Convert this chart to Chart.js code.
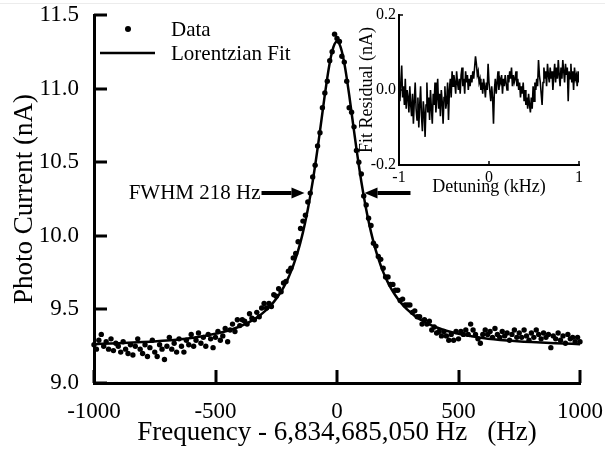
<!DOCTYPE html>
<html>
<head>
<meta charset="utf-8">
<script src="https://cdn.jsdelivr.net/npm/chart.js@4.4.1/dist/chart.umd.min.js"></script>
<style>
  html, body { margin: 0; padding: 0; background: #fff; }
  #wrap { position: relative; width: 605px; height: 454px; overflow: hidden; }
  #wrap::before { content: ''; position: absolute; left: 0; right: 0; top: 3px; height: 1px; background: #ececec; }
  #main { position: absolute; left: 0; top: 0; }
  #inset { position: absolute; left: 330px; top: 0; }
</style>
</head>
<body>
<div id="wrap">
  <canvas id="main" width="605" height="454"></canvas>
  <canvas id="inset" width="275" height="200"></canvas>
</div>
<script>
/* Lorentzian resonance scan with fit residual inset */

// detuning of each measured point (Hz)
const freqHz = [
  -1000, -990, -980, -970, -960, -950, -940, -930, -920, -910,
  -900, -890, -880, -870, -860, -850, -840, -830, -820, -810,
  -800, -790, -780, -770, -760, -750, -740, -730, -720, -710,
  -700, -690, -680, -670, -660, -650, -640, -630, -620, -610,
  -600, -590, -580, -570, -560, -550, -540, -530, -520, -510,
  -500, -490, -480, -470, -460, -450, -440, -430, -420, -410,
  -400, -390, -380, -370, -360, -350, -340, -330, -320, -310,
  -300, -290, -280, -270, -260, -250, -240, -230, -220, -210,
  -200, -190, -180, -170, -160, -150, -140, -130, -120, -110,
  -100, -90, -80, -70, -60, -50, -40, -30, -20, -10,
  0,
  10, 20, 30, 40, 50, 60, 70, 80, 90, 100,
  110, 120, 130, 140, 150, 160, 170, 180, 190, 200,
  210, 220, 230, 240, 250, 260, 270, 280, 290, 300,
  310, 320, 330, 340, 350, 360, 370, 380, 390, 400,
  410, 420, 430, 440, 450, 460, 470, 480, 490, 500,
  510, 520, 530, 540, 550, 560, 570, 580, 590, 600,
  610, 620, 630, 640, 650, 660, 670, 680, 690, 700,
  710, 720, 730, 740, 750, 760, 770, 780, 790, 800,
  810, 820, 830, 840, 850, 860, 870, 880, 890, 900,
  910, 920, 930, 940, 950, 960, 970, 980, 990, 1000
];

// measured photo current (nA)
const photoCurrent = [
  9.26, 9.23, 9.29, 9.33, 9.25, 9.28, 9.23, 9.30, 9.22, 9.27,
  9.25, 9.21, 9.28, 9.23, 9.20, 9.26, 9.19, 9.25, 9.30, 9.23,
  9.20, 9.26, 9.18, 9.24, 9.29, 9.21, 9.18, 9.26, 9.23, 9.16,
  9.25, 9.31, 9.23, 9.27, 9.21, 9.30, 9.25, 9.21, 9.29, 9.26,
  9.33, 9.25, 9.29, 9.34, 9.27, 9.31, 9.25, 9.33, 9.30, 9.24,
  9.31, 9.35, 9.29, 9.32, 9.37, 9.28, 9.36, 9.40, 9.35, 9.43,
  9.39, 9.43, 9.42, 9.40, 9.47, 9.44, 9.43, 9.48, 9.45, 9.51,
  9.54, 9.51, 9.54, 9.52, 9.60, 9.59, 9.64, 9.62, 9.68, 9.69,
  9.76, 9.78, 9.85, 9.88, 9.96, 10.05, 10.10, 10.14, 10.23, 10.29,
  10.40, 10.48, 10.61, 10.70, 10.87, 10.97, 11.05, 11.19, 11.25, 11.37,
  11.34,
  11.32, 11.22, 11.18, 11.05, 10.87, 10.84, 10.74, 10.58, 10.50, 10.42,
  10.27, 10.21, 10.12, 10.07, 9.95, 9.93, 9.86, 9.84, 9.78, 9.72,
  9.72, 9.67, 9.67, 9.63, 9.63, 9.56, 9.57, 9.53, 9.53, 9.53,
  9.48, 9.49, 9.45, 9.45, 9.40, 9.43, 9.40, 9.42, 9.36, 9.38,
  9.34, 9.35, 9.32, 9.35, 9.32, 9.29, 9.33, 9.29, 9.35, 9.30,
  9.35, 9.33, 9.36, 9.33, 9.40, 9.36, 9.33, 9.30, 9.27, 9.33,
  9.36, 9.33, 9.35, 9.31, 9.37, 9.33, 9.31, 9.35, 9.32, 9.34,
  9.29, 9.33, 9.36, 9.31, 9.34, 9.31, 9.36, 9.32, 9.29, 9.34,
  9.31, 9.36, 9.33, 9.30, 9.34, 9.31, 9.33, 9.24, 9.32, 9.30,
  9.34, 9.29, 9.32, 9.27, 9.33, 9.30, 9.31, 9.28, 9.31, 9.28
];

// fitted Lorentzian curve
const fitHz = [
  -1000, -900, -800, -700, -600, -550, -500, -450, -400, -380, -360, -340, -320,
  -300, -280, -260, -240, -220, -200, -190, -180, -170, -160, -150, -140, -130,
  -120, -110, -100, -90, -80, -70, -60, -50, -40, -30, -20, -10, 0,
  10, 20, 30, 40, 50, 60, 70, 80, 90, 100, 110, 120, 130, 140, 150, 160, 170,
  180, 190, 200, 220, 240, 260, 280, 300, 320, 340, 360, 380, 400, 450, 500,
  550, 600, 700, 800, 900, 1000
];
const fitCurrent = [
  9.264, 9.270, 9.278, 9.289, 9.306, 9.319, 9.334, 9.355, 9.384, 9.398, 9.415, 9.434, 9.456,
  9.483, 9.514, 9.551, 9.596, 9.650, 9.716, 9.755, 9.798, 9.846, 9.899, 9.959, 10.025, 10.099,
  10.180, 10.271, 10.369, 10.477, 10.592, 10.713, 10.836, 10.959, 11.073, 11.174, 11.252, 11.303, 11.320,
  11.303, 11.252, 11.174, 11.073, 10.959, 10.836, 10.713, 10.592, 10.477, 10.369, 10.271, 10.180, 10.099, 10.025, 9.959, 9.899, 9.846,
  9.798, 9.755, 9.716, 9.650, 9.596, 9.551, 9.514, 9.483, 9.456, 9.434, 9.415, 9.398, 9.384, 9.355, 9.334,
  9.319, 9.306, 9.289, 9.278, 9.270, 9.264
];

// fit residual (nA), same points as freqHz
const fitResidual = [
  0.00, -0.03, 0.02, 0.065, -0.02, 0.01, -0.04, 0.03, -0.05, 0.00,
  -0.02, -0.06, 0.01, -0.04, -0.07, -0.01, -0.09, -0.03, 0.02, -0.05,
  -0.08, -0.02, -0.10, -0.04, 0.01, -0.07, -0.11, -0.03, -0.06, -0.125,
  -0.04, 0.02, -0.06, -0.02, -0.08, 0.00, -0.05, -0.09, -0.01, -0.04,
  0.02, -0.06, -0.02, 0.03, -0.05, -0.01, -0.07, 0.00, -0.03, -0.09,
  -0.02, 0.01, -0.05, -0.03, 0.02, -0.08, 0.00, 0.03, -0.02, 0.05,
  0.01, 0.04, 0.02, -0.01, 0.05, 0.02, 0.00, 0.03, -0.01, 0.04,
  0.06, 0.01, 0.03, -0.01, 0.05, 0.02, 0.04, 0.00, 0.03, 0.01,
  0.04, 0.02, 0.05, 0.03, 0.06, 0.09, 0.07, 0.04, 0.05, 0.02,
  0.03, 0.00, 0.02, -0.01, 0.03, 0.01, -0.02, 0.02, 0.00, 0.07,
  0.02,
  0.02, -0.03, 0.01, -0.02, -0.09, 0.00, 0.03, -0.01, 0.02, 0.05,
  0.00, 0.03, 0.02, 0.04, -0.01, 0.03, 0.01, 0.04, 0.02, 0.00,
  0.04, 0.02, 0.05, 0.03, 0.06, 0.01, 0.04, 0.02, 0.03, 0.05,
  0.01, 0.03, 0.00, 0.02, -0.02, 0.01, -0.01, 0.02, -0.03, 0.00,
  -0.04, -0.02, -0.05, -0.01, -0.04, -0.06, -0.02, -0.05, 0.01, -0.03,
  0.02, 0.00, 0.03, 0.01, 0.08, 0.04, 0.02, -0.01, -0.04, 0.02,
  0.06, 0.03, 0.05, 0.01, 0.07, 0.04, 0.02, 0.06, 0.03, 0.05,
  0.00, 0.04, 0.07, 0.02, 0.06, 0.03, 0.08, 0.04, 0.01, 0.06,
  0.03, 0.08, 0.05, 0.02, 0.07, 0.04, 0.06, -0.03, 0.05, 0.03,
  0.07, 0.02, 0.05, 0.00, 0.06, 0.03, 0.04, 0.01, 0.05, 0.02
];

const fwhmHz = 218;
const fwhmLevel = 10.29;

const SERIF = "'Liberation Serif', 'Times New Roman', serif";
Chart.defaults.font.family = SERIF;
Chart.defaults.color = '#000';
Chart.defaults.animation = false;

function pts(xs, ys) {
  return xs.map(function (x, i) { return { x: x, y: ys[i] }; });
}

// fixed axis box sizes; label overflow is left to the layout padding
function fixedBox(size) {
  return function (s) {
    if (s.isHorizontal()) s.height = size; else s.width = size;
    s.paddingLeft = s.paddingRight = s.paddingTop = s.paddingBottom = 0;
  };
}

// Origin style tick marks pointing into the plot
const inwardTicks = {
  id: 'inwardTicks',
  afterDatasetsDraw(chart, args, opts) {
    const { ctx, chartArea: a, scales: { x, y } } = chart;
    ctx.save();
    ctx.strokeStyle = '#000';
    ctx.lineWidth = opts.width;
    x.ticks.forEach(function (t) {
      const px = Math.round(x.getPixelForValue(t.value));
      ctx.beginPath();
      ctx.moveTo(px, a.bottom);
      ctx.lineTo(px, a.bottom - opts.length);
      ctx.stroke();
    });
    y.ticks.forEach(function (t) {
      const py = Math.round(y.getPixelForValue(t.value));
      ctx.beginPath();
      ctx.moveTo(a.left, py);
      ctx.lineTo(a.left + opts.length, py);
      ctx.stroke();
    });
    ctx.restore();
  }
};

function arrow(ctx, tailX, tipX, y) {
  const dir = tipX > tailX ? 1 : -1;
  const head = 13;
  ctx.beginPath();
  ctx.moveTo(tailX, y);
  ctx.lineTo(tipX - dir * head, y);
  ctx.lineWidth = 4;
  ctx.stroke();
  ctx.beginPath();
  ctx.moveTo(tipX, y);
  ctx.lineTo(tipX - dir * head, y - 5.5);
  ctx.lineTo(tipX - dir * head, y + 5.5);
  ctx.closePath();
  ctx.fill();
}

const annotations = {
  id: 'annotations',
  afterDraw(chart) {
    const { ctx, scales: { x, y } } = chart;
    ctx.save();
    ctx.fillStyle = '#000';
    ctx.strokeStyle = '#000';

    // legend
    ctx.font = '21px ' + SERIF;
    ctx.textBaseline = 'middle';
    ctx.textAlign = 'left';
    ctx.beginPath();
    ctx.arc(128, 29, 3, 0, Math.PI * 2);
    ctx.fill();
    ctx.fillText('Data', 171, 30);
    ctx.beginPath();
    ctx.moveTo(100, 53);
    ctx.lineTo(155, 53);
    ctx.lineWidth = 2.5;
    ctx.stroke();
    ctx.fillText('Lorentzian Fit', 171, 54);

    // FWHM arrows
    const yy = Math.round(y.getPixelForValue(fwhmLevel));
    const leftTip = x.getPixelForValue(-fwhmHz / 2) - 6;
    const rightTip = x.getPixelForValue(fwhmHz / 2) + 1;
    arrow(ctx, leftTip - 43, leftTip, yy);
    arrow(ctx, rightTip + 46, rightTip, yy);
    ctx.textAlign = 'right';
    ctx.fillText('FWHM 218 Hz', leftTip - 44, yy);
    ctx.restore();
  }
};

new Chart(document.getElementById('main'), {
  type: 'scatter',
  data: {
    datasets: [
      {
        label: 'Data',
        data: pts(freqHz, photoCurrent),
        pointRadius: 2.7,
        pointBackgroundColor: '#000',
        pointBorderWidth: 0,
        showLine: false,
        clip: 5,
      },
      {
        label: 'Lorentzian Fit',
        data: pts(fitHz, fitCurrent),
        showLine: true,
        pointRadius: 0,
        borderColor: '#000',
        borderWidth: 2.5,
        cubicInterpolationMode: 'monotone',
      },
    ],
  },
  options: {
    responsive: false,
    layout: { padding: { left: 0, top: 15, right: 25, bottom: 5 } },
    plugins: {
      legend: { display: false },
      tooltip: { enabled: false },
      inwardTicks: { length: 13, width: 3 },
    },
    scales: {
      x: {
        type: 'linear',
        min: -1000,
        max: 1000,
        grid: { display: false, drawTicks: false },
        border: { display: true, color: '#000', width: 3 },
        ticks: {
          stepSize: 500,
          padding: 15,
          font: { size: 23 },
          maxRotation: 0,
          callback: function (v) { return String(v); },
        },
        title: {
          display: true,
          text: 'Frequency - 6,834,685,050 Hz   (Hz)',
          font: { size: 27 },
          padding: { top: 0, bottom: 0 },
        },
        afterFit: fixedBox(66),
      },
      y: {
        min: 9,
        max: 11.5,
        grid: { display: false, drawTicks: false },
        border: { display: true, color: '#000', width: 3 },
        ticks: {
          stepSize: 0.5,
          padding: 15,
          font: { size: 23 },
          callback: function (v) { return v.toFixed(1); },
        },
        title: {
          display: true,
          text: 'Photo Current (nA)',
          font: { size: 27 },
          padding: { top: 9, bottom: 0 },
        },
        afterFit: fixedBox(94),
      },
    },
  },
  plugins: [inwardTicks, annotations],
});

new Chart(document.getElementById('inset'), {
  type: 'scatter',
  data: {
    datasets: [{
      label: 'Fit Residual',
      data: pts(freqHz, fitResidual),
      showLine: true,
      pointRadius: 0,
      borderColor: '#000',
      borderWidth: 1.6,
    }],
  },
  options: {
    responsive: false,
    layout: { padding: { left: 0, top: 15, right: 26, bottom: 0 } },
    plugins: {
      legend: { display: false },
      tooltip: { enabled: false },
      inwardTicks: { length: 4, width: 1.5 },
    },
    scales: {
      x: {
        type: 'linear',
        min: -1000,
        max: 1000,
        grid: { display: false, drawTicks: false },
        border: { display: true, color: '#000', width: 2 },
        ticks: {
          stepSize: 1000,
          padding: 3,
          font: { size: 16 },
          maxRotation: 0,
          callback: function (v) { return String(v / 1000); },
        },
        title: {
          display: true,
          text: 'Detuning (kHz)',
          font: { size: 18 },
          padding: { top: 0, bottom: 2 },
        },
        afterFit: fixedBox(35),
      },
      y: {
        min: -0.2,
        max: 0.2,
        grid: { display: false, drawTicks: false },
        border: { display: true, color: '#000', width: 2 },
        ticks: {
          stepSize: 0.2,
          padding: 3,
          font: { size: 16 },
          callback: function (v) { return v.toFixed(1); },
        },
        title: {
          display: true,
          text: 'Fit Residual (nA)',
          font: { size: 18 },
          padding: { top: 26, bottom: 0 },
        },
        afterFit: fixedBox(69),
      },
    },
  },
  plugins: [inwardTicks],
});
</script>
</body>
</html>
